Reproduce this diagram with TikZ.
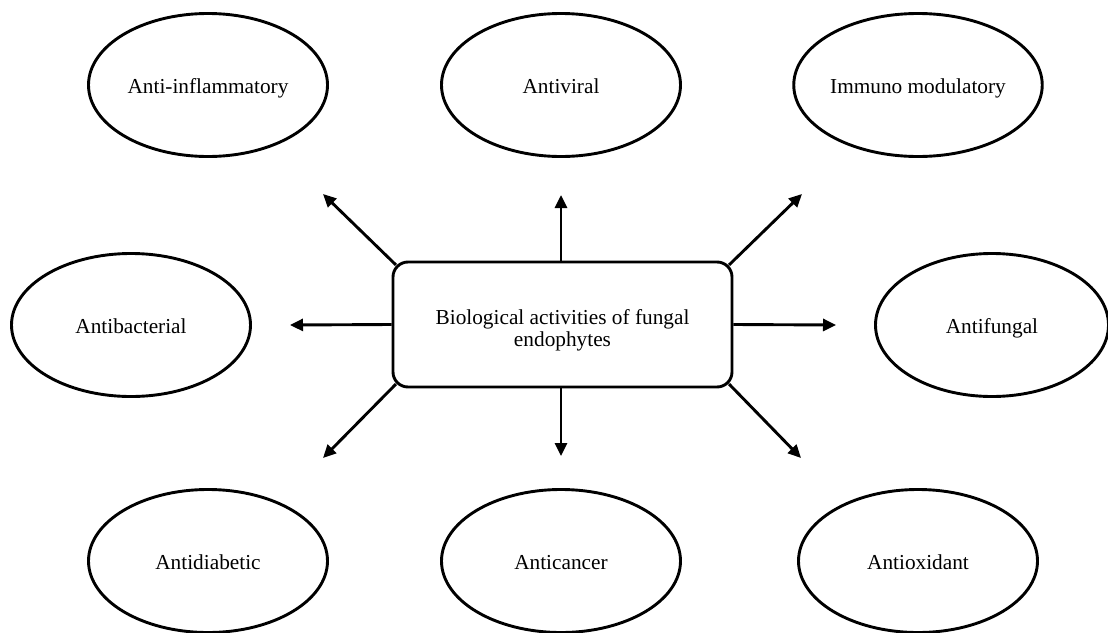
\documentclass[tikz,border=0pt]{standalone}
\usepackage{fontspec}
\setmainfont{Liberation Serif}
\usetikzlibrary{shapes.geometric,arrows.meta}
\begin{document}
\begin{tikzpicture}[x=1pt,y=-1pt,
  bubble/.style={draw,line width=2.9pt,ellipse,minimum width=239pt,minimum height=143pt,inner sep=0pt,text height=16pt,text depth=0pt,font=\fontsize{21.3}{25}\selectfont},
  centerbox/.style={draw,line width=2.9pt,rounded corners=15pt,minimum width=339pt,minimum height=125pt,inner sep=0pt,align=center,font=\fontsize{21.3}{22}\selectfont},
  link/.style={line width=2.9pt,-{Triangle[length=13pt,width=12pt]}}]
\useasboundingbox (0,0) rectangle (1108,632);
\node[centerbox] (box) at (562.5,324.5) {\rule{0pt}{27pt}Biological activities of fungal\\endophytes};
\node[bubble] (infl) at (208,85) {Anti-inflammatory};
\node[bubble] (viral) at (561,85) {Antiviral};
\node[bubble] (immuno) at (918,85) {Immuno modulatory};
\node[bubble] (bact) at (131,325) {Antibacterial};
\node[bubble,minimum width=233pt] (fung) at (992,325) {Antifungal};
\node[bubble] (diab) at (208,561) {Antidiabetic};
\node[bubble] (canc) at (561,561) {Anticancer};
\node[bubble] (oxid) at (918,561) {Antioxidant};
\coordinate (eNW) at (323,194);
\coordinate (eN) at (561,195);
\coordinate (eNE) at (802,194);
\coordinate (eW) at (290,325);
\coordinate (eE) at (836,325);
\coordinate (eSW) at (323,458);
\coordinate (eS) at (561,456);
\coordinate (eSE) at (801,458);
\draw[link] ([shift={(4.4,4.4)}]box.north west) -- (eNW);
\draw[link] (box.north -| eN) -- (eN);
\draw[link] ([shift={(-4.4,4.4)}]box.north east) -- (eNE);
\draw[link] (box.west) -- (eW);
\draw[link] (box.east) -- (eE);
\draw[link] ([shift={(4.4,-4.4)}]box.south west) -- (eSW);
\draw[link] (box.south -| eS) -- (eS);
\draw[link] ([shift={(-4.4,-4.4)}]box.south east) -- (eSE);
\end{tikzpicture}
\end{document}
